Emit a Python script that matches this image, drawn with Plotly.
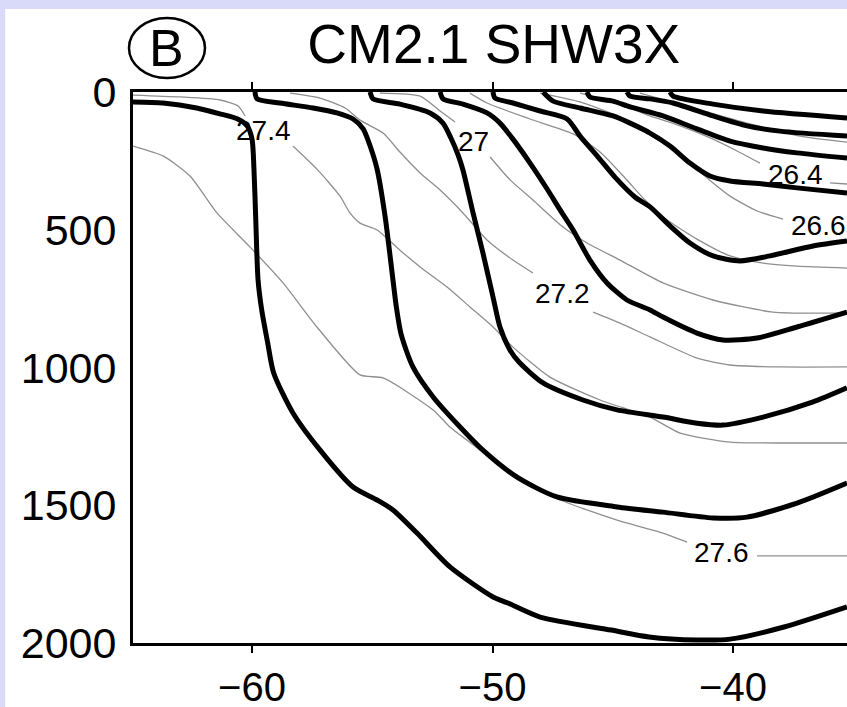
import plotly.graph_objects as go

# ---------------- data (longitude, depth in m) ----------------
# thick black contours
t1_lon = [-65.0, -63.7, -62.3, -61.3, -60.6, -60.2, -60.0, -59.92, -59.85, -59.75, -59.6, -59.35, -59.1, -58.3, -57.17, -55.8, -54.8, -54.14, -53.14, -51.77, -49.98, -49.36, -48.02, -45.07, -43.49, -41.5, -40.12, -37.88, -35.26]
t1_dep = [36, 40, 58, 80, 98, 123, 171, 280, 450, 682, 790, 910, 1020, 1165, 1300, 1434, 1481, 1517, 1601, 1724, 1833, 1855, 1906, 1953, 1978, 1989, 1986, 1942, 1869]

t2_lon = [-59.88, -59.79, -58.84, -57.46, -56.47, -55.8, -55.38, -55.09, -54.8, -54.47, -54.14, -54.0, -53.8, -53.31, -52.47, -51.35, -50.4, -48.98, -47.32, -44.82, -42.91, -40.83, -39.42, -37.34, -35.26]
t2_dep = [0, 25, 40, 58, 76, 98, 134, 196, 280, 450, 682, 780, 880, 998, 1107, 1216, 1300, 1398, 1470, 1506, 1525, 1546, 1543, 1492, 1419]

t3_lon = [-55.09, -54.97, -53.85, -52.6, -52.06, -51.73, -51.43, -51.23, -50.81, -50.4, -49.98, -49.69, -49.27, -48.9, -47.9, -46.24, -44.82, -42.91, -41.5, -40.42, -38.75, -36.67, -35.26]
t3_dep = [0, 25, 44, 76, 113, 167, 229, 283, 439, 584, 744, 853, 937, 980, 1056, 1118, 1154, 1180, 1202, 1209, 1180, 1125, 1074]

t4_lon = [-52.18, -52.06, -51.23, -50.23, -49.69, -49.15, -48.44, -47.73, -47.19, -46.65, -45.95, -45.24, -44.41, -43.45, -42.91, -41.5, -40.42, -39.0, -37.34, -35.26]
t4_dep = [0, 25, 44, 76, 113, 171, 258, 352, 428, 501, 610, 693, 755, 791, 817, 875, 900, 893, 853, 799]

t5_lon = [-49.98, -49.9, -49.15, -48.02, -46.9, -46.36, -45.61, -44.91, -44.08, -43.45, -42.62, -41.79, -40.83, -39.71, -38.46, -36.67, -35.26]
t5_dep = [0, 22, 40, 69, 98, 160, 236, 309, 381, 417, 486, 548, 595, 613, 595, 559, 541]

t6_lon = [-47.9, -47.48, -46.36, -44.99, -44.28, -43.45, -42.62, -41.79, -40.96, -40.12, -38.75, -37.34, -35.26]
t6_dep = [0, 33, 58, 87, 113, 149, 196, 258, 305, 323, 334, 348, 367]

t7_lon = [-46.07, -45.95, -44.99, -44.28, -42.91, -41.5, -40.12, -38.75, -37.34, -35.26]
t7_dep = [0, 18, 33, 54, 87, 134, 178, 203, 221, 240]

t8_lon = [-44.41, -44.28, -43.45, -42.49, -40.83, -39.42, -38.05, -35.26]
t8_dep = [0, 15, 25, 40, 87, 123, 142, 160]

t9_lon = [-42.62, -42.49, -40.83, -38.75, -35.26]
t9_dep = [0, 15, 44, 69, 94]

# thin grey labelled contours (None = gap for label)
g276_lon = [-64.95, -63.7, -62.58, -61.46, -60.08, -58.71, -57.3, -55.51, -54.55, -52.47, -51.77, -50.4, -48.86, -47.19, -44.82, -42.91, -41.91, None, -39.0, -35.26]
g276_dep = [196, 232, 305, 439, 563, 693, 853, 1027, 1038, 1154, 1216, 1307, 1408, 1481, 1554, 1601, 1634, None, 1684, 1684]

g274_lon = [-64.95, -62.99, -61.33, -60.58, -60.29, None, -58.3, -57.3, -56.34, -55.93, -55.51, -54.8, -53.85, -53.01, -51.89, -50.94, -49.98, -49.15, -47.61, -45.53, -43.45, -42.2, -40.12, -37.34, -35.26]
g274_dep = [11, 18, 29, 51, 87, None, 196, 280, 378, 439, 476, 501, 574, 635, 708, 780, 853, 926, 1035, 1118, 1180, 1238, 1271, 1274, 1274]

g272_lon = [-58.42, -57.17, -56.13, -55.51, -54.55, -53.85, -53.01, -52.18, -51.23, -50.23, -49.15, -48.32, None, -45.82, -44.7, -43.45, -41.5, -40.12, -38.05, -35.26]
g272_dep = [4, 22, 58, 102, 149, 218, 294, 356, 439, 537, 610, 657, None, 799, 839, 889, 966, 991, 998, 998]

g270_lon = [-54.68, -53.01, -52.18, -51.56, None, -50.1, -49.27, -48.32, -47.07, -46.07, -44.7, -42.91, -40.83, -38.34, -35.26]
g270_dep = [4, 15, 69, 109, None, 236, 319, 392, 490, 548, 610, 693, 755, 799, 802]

g268_lon = [-50.94, -50.23, -48.44, -46.65, -45.53, -44.49, -43.66, -42.91, -41.5, -40.12, -38.75, -37.34, -35.26]
g268_dep = [4, 40, 98, 152, 218, 312, 392, 454, 534, 595, 621, 632, 639]

g266_lon = [-48.02, -46.36, -44.7, -43.45, -42.2, -41.5, -40.83, -40.12, -39.0, -37.92]
g266_dep = [4, 36, 91, 156, 229, 280, 330, 378, 432, 461]

g264_lon = [-46.36, -44.7, -43.45, -42.2, -40.83, -39.83, -38.88, None, -35.97, -35.26]
g264_dep = [4, 44, 87, 123, 171, 214, 258, None, 330, 334]

g262_lon = [-43.87, -41.37, -39.29, -37.21, -35.26]
g262_dep = [4, 65, 116, 160, 182]

label_text = ["27.4", "27", "27.2", "26.4", "26.6", "27.6"]
label_lon = [-59.54, -50.81, -47.07, -37.42, -36.46, -40.46]
label_dep = [138, 178, 730, 298, 486, 1670]

x_ticks = [-60, -50, -40]
y_ticks = [0, 500, 1000, 1500, 2000]

FONT = "Liberation Sans, Arial, Helvetica, sans-serif"

fig = go.Figure()

greys = [(g262_lon, g262_dep), (g264_lon, g264_dep), (g266_lon, g266_dep), (g268_lon, g268_dep),
         (g270_lon, g270_dep), (g272_lon, g272_dep), (g274_lon, g274_dep), (g276_lon, g276_dep)]
for lon, dep in greys:
    fig.add_trace(go.Scatter(x=lon, y=dep, mode="lines", line=dict(color="#8f8f8f", width=1.3, shape="spline", smoothing=0.6),
                             connectgaps=False, hoverinfo="skip", showlegend=False))

thick = [(t1_lon, t1_dep), (t2_lon, t2_dep), (t3_lon, t3_dep), (t4_lon, t4_dep), (t5_lon, t5_dep),
         (t6_lon, t6_dep), (t7_lon, t7_dep), (t8_lon, t8_dep), (t9_lon, t9_dep)]
for lon, dep in thick:
    fig.add_trace(go.Scatter(x=lon, y=dep, mode="lines", line=dict(color="black", width=5, shape="spline", smoothing=0.7),
                             hoverinfo="skip", showlegend=False))

for t, lx, ly in zip(label_text, label_lon, label_dep):
    fig.add_annotation(x=lx, y=ly, text=t, showarrow=False, font=dict(family=FONT, size=28, color="black"),
                       xanchor="center", yanchor="middle")

# panel letter in a circle (sized in pixels)
fig.add_shape(type="circle", xref="paper", yref="paper", xsizemode="pixel", ysizemode="pixel",
              xanchor=0.0476, yanchor=1.0799, x0=-38, x1=38, y0=-30, y1=30,
              line=dict(color="black", width=2.5))
fig.add_annotation(xref="paper", yref="paper", x=0.0476, y=1.0799, text="B", showarrow=False,
                   font=dict(family=FONT, size=52, color="black"), xanchor="center", yanchor="middle")

# white page inside lavender frame
fig.add_shape(type="rect", xref="paper", yref="paper", x0=-0.179, x1=1.2, y0=-0.2, y1=1.1506,
              fillcolor="white", line=dict(width=0), layer="below")

fig.update_layout(
    width=847, height=707,
    margin=dict(l=133, r=0, t=92, b=64, autoexpand=False),
    paper_bgcolor="#d9d9f9",
    plot_bgcolor="white",
    font=dict(family=FONT, color="black"),
    title=dict(text="CM2.1 SHW3X", x=0.583, y=0.938, xref="container", yref="container",
               xanchor="center", yanchor="middle", font=dict(family=FONT, size=55, color="black")),
    xaxis=dict(range=[-64.95, -35.26], tickvals=x_ticks, ticks="outside", ticklen=7, tickwidth=2,
               tickcolor="black", showline=True, linewidth=3, linecolor="black", mirror="ticks",
               showgrid=False, zeroline=False, tickfont=dict(family=FONT, size=40), automargin=False),
    yaxis=dict(range=[2000, 0], tickvals=y_ticks, ticks="", showline=True, linewidth=3, linecolor="black",
               showgrid=False, zeroline=False, tickfont=dict(family=FONT, size=43), ticklabelstandoff=5,
               automargin=False),
)

fig.write_html("out.html", config={"displayModeBar": False},
               post_script="document.body.style.margin='0';document.body.style.overflow='hidden';")
